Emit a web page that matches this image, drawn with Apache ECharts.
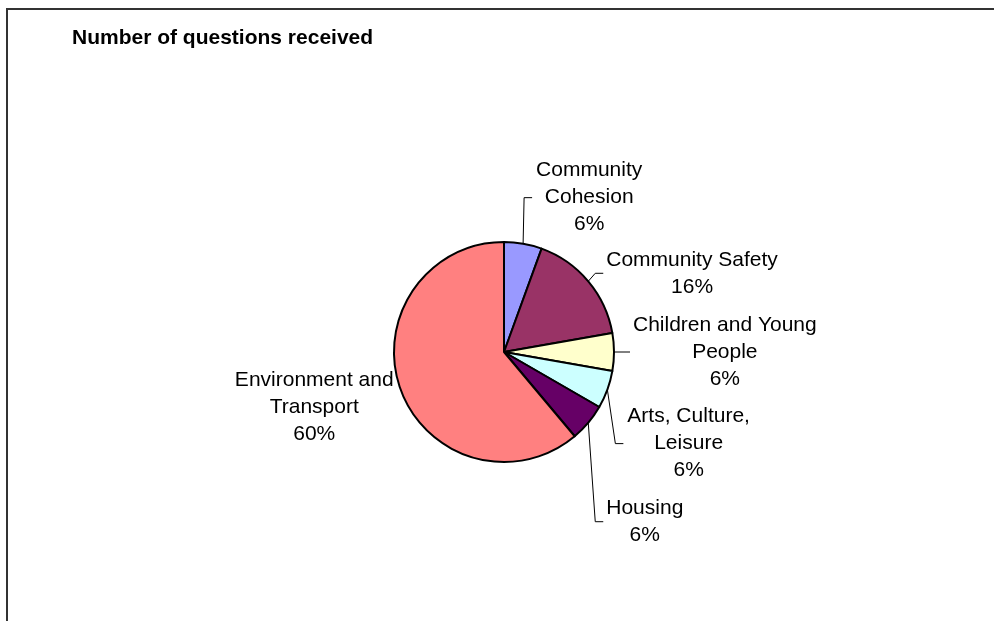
<!DOCTYPE html>
<html>
<head>
<meta charset="utf-8">
<script src="https://cdn.jsdelivr.net/npm/echarts@6/dist/echarts.min.js"></script>
<style>
  html, body { margin: 0; padding: 0; background: #ffffff; }
  #chart { width: 994px; height: 621px; }
</style>
</head>
<body>
<div id="chart"></div>
<script>
// ---- data ----
const categories = ['Community Cohesion', 'Community Safety', 'Children and Young People', 'Arts, Culture, Leisure', 'Housing', 'Environment and Transport'];
const labelLinesText = [['Community', 'Cohesion'], ['Community Safety'], ['Children and Young', 'People'], ['Arts, Culture,', 'Leisure'], ['Housing'], ['Environment and', 'Transport']];
const values = [1, 3, 1, 1, 1, 11];
const percentLabels = ['6%', '16%', '6%', '6%', '6%', '60%'];
const titleText = 'Number of questions received';

// ---- styles ----
const colors = ['#9999FF', '#993366', '#FFFFCC', '#CCFFFF', '#660066', '#FF8080'];
// leader shapes relative to the library-computed slice edge point
const leaders = [
  { bx: 1, by: -46, h: 8, gx: 4, gy: 0, side: 1 },
  { bx: 7, by: -8, h: 8, gx: 3, gy: 0, side: 1 },
  { bx: 8, by: 0, h: 8, gx: 3, gy: 0, side: 1 },
  { bx: 8, by: 54, h: 8, gx: 4, gy: 0, side: 1 },
  { bx: 7, by: 99, h: 8, gx: 3, gy: 0, side: 1 },
  { bx: 0, by: 0, h: 0, gx: -7, gy: 18, side: -1 }
];

const FONT = "'Liberation Sans', Arial, sans-serif";
const chart = echarts.init(document.getElementById('chart'), null, { renderer: 'canvas' });

const seriesData = categories.map(function (c, i) {
  return { name: c, value: values[i], itemStyle: { color: colors[i] } };
});

chart.setOption({
  animation: false,
  backgroundColor: '#ffffff',
  title: {
    text: titleText,
    left: 67,
    top: 23,
    textStyle: { fontFamily: FONT, fontWeight: 'bold', fontSize: 21, color: '#000' }
  },
  graphic: [{
    type: 'rect',
    shape: { x: 7, y: 9, width: 1000, height: 700 },
    style: { fill: 'none', stroke: '#333333', lineWidth: 2 },
    silent: true
  }],
  series: [{
    type: 'pie',
    center: [504, 352],
    radius: 110,
    startAngle: 90,
    clockwise: true,
    avoidLabelOverlap: false,
    emphasis: { disabled: true },
    itemStyle: { borderColor: '#000000', borderWidth: 2 },
    label: {
      show: true,
      position: 'outside',
      fontFamily: FONT,
      fontSize: 21,
      color: '#000',
      formatter: function (p) {
        const lines = labelLinesText[p.dataIndex].concat([percentLabels[p.dataIndex]]);
        return lines.map(function (l) { return '{c|' + l + '}'; }).join('\n');
      },
      rich: {
        c: { align: 'center', fontFamily: FONT, fontSize: 21, lineHeight: 27, color: '#000' }
      }
    },
    labelLine: { show: true, length: 10, length2: 8, lineStyle: { color: '#000', width: 1 } },
    labelLayout: function (p) {
      const o = leaders[p.dataIndex];
      const pts = p.labelLinePoints;
      if (!pts) return {};
      const e = pts[0];
      const b = [e[0] + o.bx, e[1] + o.by];
      const end = [b[0] + o.h * o.side, b[1]];
      return {
        x: end[0] + o.gx,
        y: end[1] + o.gy,
        align: o.side > 0 ? 'left' : 'right',
        verticalAlign: 'middle',
        labelLinePoints: [e, b, end]
      };
    },
    data: seriesData
  }]
});
</script>
</body>
</html>
